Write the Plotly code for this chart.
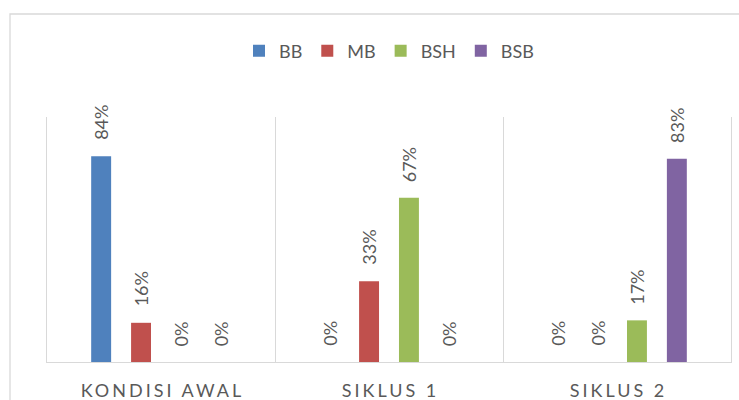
import plotly.graph_objects as go

categories = ["KONDISI AWAL", "SIKLUS 1", "SIKLUS 2"]
series_names = ["BB", "MB", "BSH", "BSB"]
bb = [0.84, 0.00, 0.00]
mb = [0.16, 0.33, 0.00]
bsh = [0.00, 0.67, 0.17]
bsb = [0.00, 0.00, 0.83]
colors = ["#4F81BD", "#C0504D", "#9BBB59", "#8064A2"]

values = [bb, mb, bsh, bsb]
xs = list(range(len(categories)))

BARGAP = 0.3
GROUPGAP = 0.5
TEXT = "#595959"
GRID = "#D9D9D9"
FONT = "Lato, 'Open Sans', sans-serif"

fig = go.Figure()
n = len(series_names)
slot = (1 - BARGAP) / n
annotations = []
for i, (name, vals, col) in enumerate(zip(series_names, values, colors)):
    fig.add_trace(go.Bar(
        x=xs, y=vals, name=name, marker=dict(color=col, line=dict(width=0)),
        hoverinfo="skip",
    ))
    off = -(1 - BARGAP) / 2 + slot * (i + 0.5)
    for xc, v in zip(xs, vals):
        annotations.append(dict(
            x=xc + off, y=v, xref="x", yref="y",
            text=f"{round(v*100)}%", showarrow=False, textangle=-90,
            xanchor="center", yanchor="bottom", yshift=14,
            font=dict(family=FONT, size=18, color=TEXT),
        ))

fig.update_layout(
    width=739, height=400,
    margin=dict(l=47, r=8, t=117, b=38, autoexpand=False),
    paper_bgcolor="white", plot_bgcolor="white",
    barmode="group", bargap=BARGAP, bargroupgap=GROUPGAP,
    showlegend=True,
    legend=dict(orientation="h", x=0.5, xanchor="center", y=(362 - 51) / 245, yanchor="middle",
                font=dict(family=FONT, size=18, color=TEXT),
                itemwidth=30, traceorder="normal"),
    annotations=annotations,
    xaxis=dict(
        range=[-0.5, len(categories) - 0.5],
        tickvals=xs, ticktext=categories,
        tickfont=dict(family=FONT, size=18, color=TEXT),
        showgrid=False, zeroline=False, ticks="", ticklabelstandoff=12,
        showline=True, linecolor=GRID, linewidth=1.3, automargin=False,
        minor=dict(tick0=0.5, dtick=1, showgrid=True, gridcolor=GRID, gridwidth=1.3, ticks=""),
        fixedrange=True,
    ),
    yaxis=dict(
        range=[0, 1.0], showticklabels=False, showgrid=False, zeroline=False,
        showline=True, mirror=True, linecolor=GRID, linewidth=1.3, ticks="",
        automargin=False, fixedrange=True,
    ),
    shapes=[dict(type="rect", xref="paper", yref="paper",
                 x0=(10 - 47) / 684, x1=(760 - 47) / 684,
                 y0=(362 - 420) / 245, y1=(362 - 14) / 245,
                 line=dict(color=GRID, width=1.3), fillcolor="rgba(0,0,0,0)", layer="below")],
)

post = (
    "document.body.style.margin='0';document.body.style.overflow='hidden';"
    "document.querySelectorAll('.xtick text').forEach(function(t){"
    "t.style.letterSpacing='3px';t.setAttribute('dx','1.5');});"
)
fig.write_html("out.html", config={"displayModeBar": False}, post_script=post)
